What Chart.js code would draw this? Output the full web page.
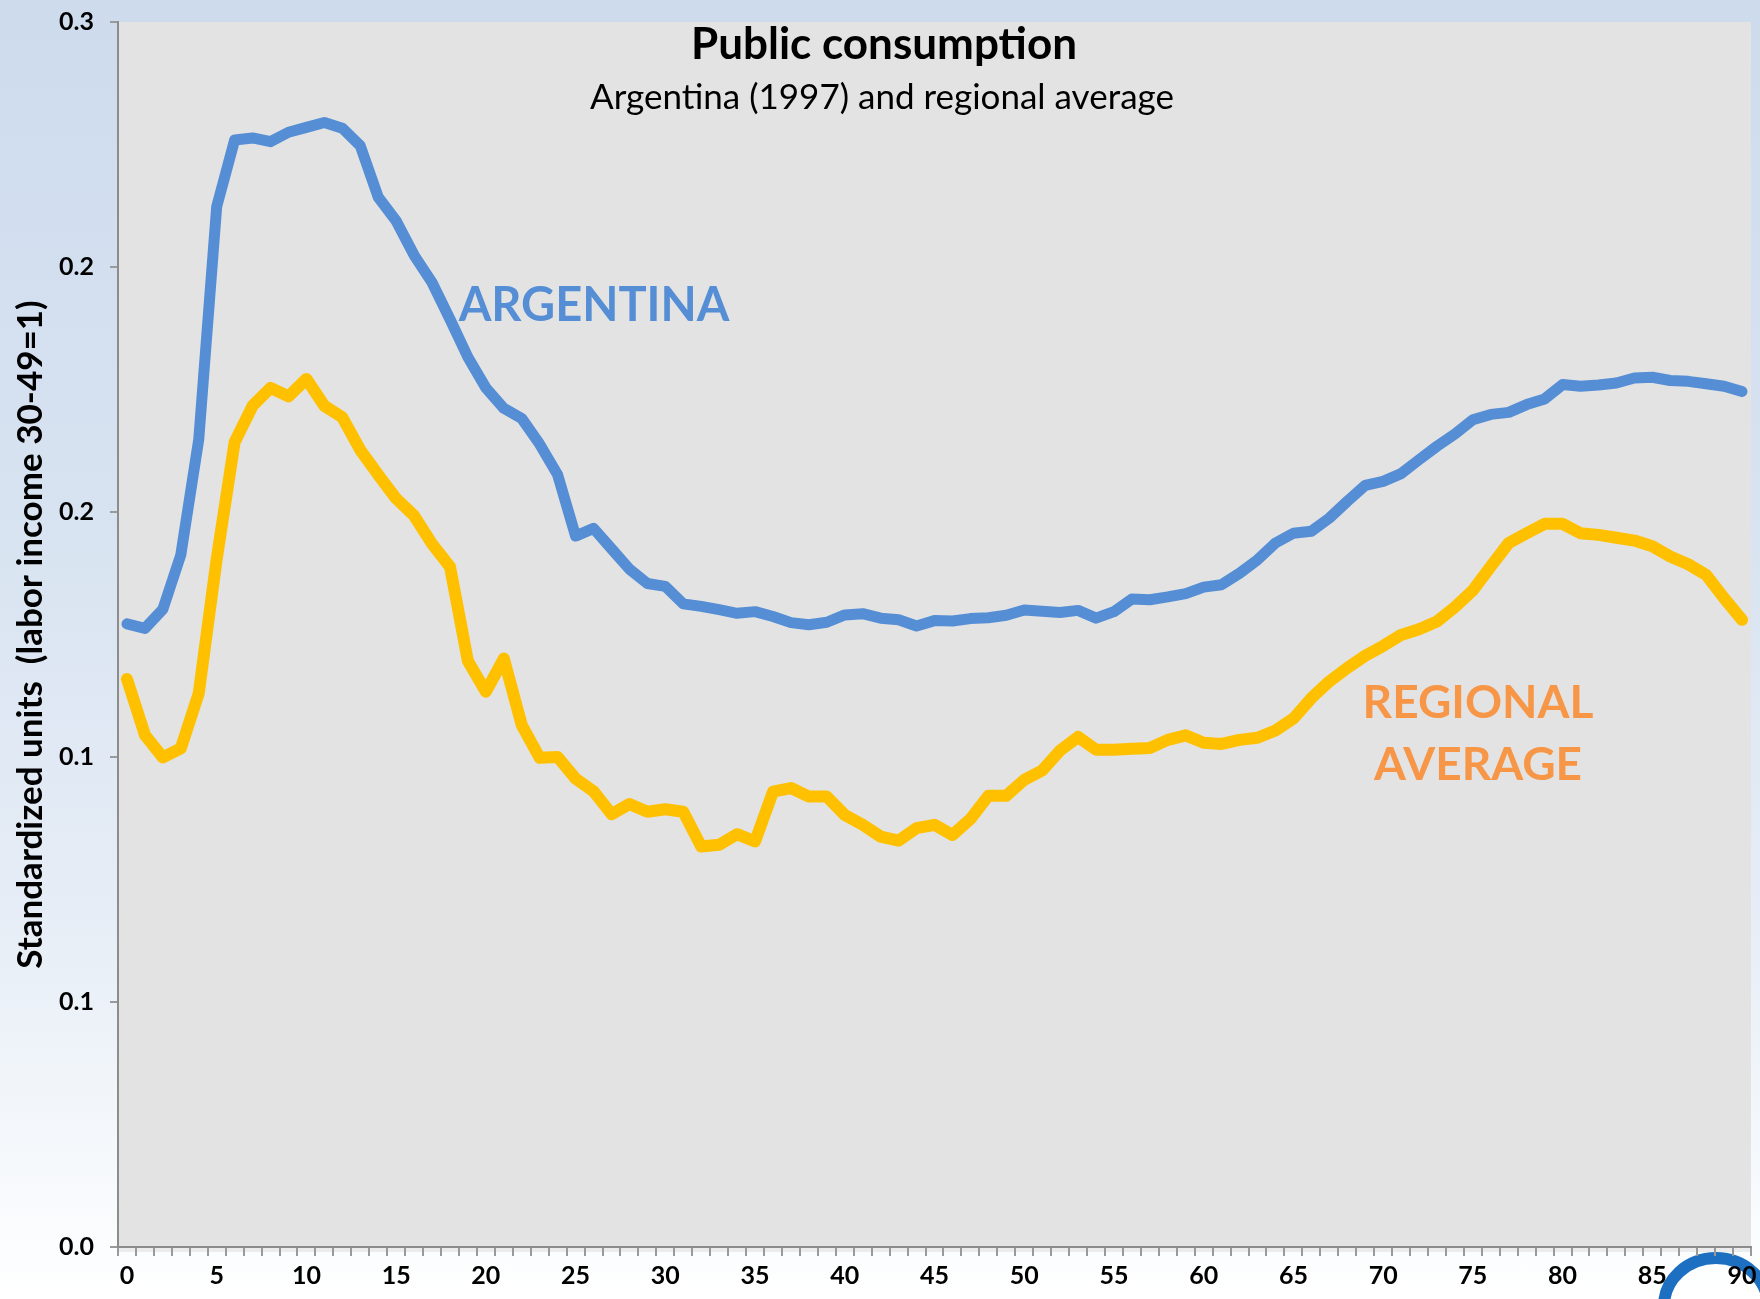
<!DOCTYPE html>
<html>
<head>
<meta charset="utf-8">
<script src="https://cdn.jsdelivr.net/npm/chart.js@4.4.1/dist/chart.umd.min.js"></script>
<style>
  html, body { margin: 0; padding: 0; }
  body {
    width: 1760px; height: 1299px; overflow: hidden;
    background: linear-gradient(to bottom, #cddbed 0%, #d8e3f1 40%, #e6edf6 70%, #f6f9fc 90%, #ffffff 100%);
  }
  canvas { display: block; }
</style>
</head>
<body>
<canvas id="publicConsChart" width="1760" height="1299"></canvas>
<script>
// public consumption by age, standardized units
const ages = [];
for (let a = 0; a <= 90; a++) ages.push(String(a));

const argentina = [
  0.1526, 0.1515, 0.1562, 0.1695, 0.1978, 0.2548, 0.2711, 0.2716, 0.2707, 0.2730,
  0.2742, 0.2754, 0.2740, 0.2697, 0.2571, 0.2513, 0.2429, 0.2362, 0.2272, 0.2179,
  0.2104, 0.2054, 0.2029, 0.1966, 0.1891, 0.1741, 0.1760, 0.1710, 0.1660, 0.1625,
  0.1618, 0.1575, 0.1569, 0.1561, 0.1552, 0.1556, 0.1544, 0.1529, 0.1524, 0.1530,
  0.1548, 0.1551, 0.1540, 0.1536, 0.1521, 0.1534, 0.1533, 0.1539, 0.1541, 0.1547,
  0.1560, 0.1557, 0.1554, 0.1559, 0.1540, 0.1556, 0.1587, 0.1585, 0.1592, 0.1600,
  0.1616, 0.1622, 0.1650, 0.1683, 0.1724, 0.1748, 0.1753, 0.1785, 0.1826, 0.1865,
  0.1875, 0.1894, 0.1928, 0.1961, 0.1991, 0.2026, 0.2039, 0.2044, 0.2063, 0.2077,
  0.2112, 0.2108, 0.2111, 0.2116, 0.2128, 0.2130, 0.2122, 0.2120, 0.2114, 0.2108,
  0.2095
];

const regional = [
  0.1391, 0.1254, 0.1199, 0.1221, 0.1356, 0.1685, 0.1971, 0.2060, 0.2104, 0.2083,
  0.2126, 0.2060, 0.2032, 0.1952, 0.1891, 0.1833, 0.1791, 0.1722, 0.1666, 0.1435,
  0.1360, 0.1441, 0.1278, 0.1198, 0.1200, 0.1147, 0.1116, 0.1060, 0.1085, 0.1066,
  0.1072, 0.1066, 0.0981, 0.0985, 0.1011, 0.0993, 0.1115, 0.1124, 0.1103, 0.1103,
  0.1058, 0.1034, 0.1005, 0.0995, 0.1026, 0.1034, 0.1009, 0.1048, 0.1105, 0.1105,
  0.1144, 0.1167, 0.1216, 0.1249, 0.1218, 0.1218, 0.1220, 0.1222, 0.1242, 0.1253,
  0.1235, 0.1232, 0.1242, 0.1247, 0.1265, 0.1294, 0.1344, 0.1385, 0.1418, 0.1448,
  0.1472, 0.1499, 0.1513, 0.1532, 0.1567, 0.1608, 0.1667, 0.1724, 0.1748, 0.1771,
  0.1771, 0.1748, 0.1744, 0.1737, 0.1730, 0.1716, 0.1691, 0.1672, 0.1646, 0.1589,
  0.1536
];

const yTicks = [0, 0.06, 0.12, 0.18, 0.24, 0.30];

const FONT = "Lato, 'Open Sans', sans-serif";

// gray plot area + little logo ring in the corner
const plotBg = {
  id: "plotBg",
  beforeDraw(chart) {
    const { ctx, chartArea: a } = chart;
    ctx.save();
    ctx.fillStyle = "#e3e3e3";
    ctx.fillRect(a.left, a.top, a.right - a.left, a.bottom - a.top);
    ctx.fillStyle = "#ececec";
    ctx.fillRect(a.left, a.bottom, a.right - a.left, 5);
    ctx.strokeStyle = "#1d6fc2";
    ctx.lineWidth = 12;
    ctx.beginPath();
    ctx.ellipse(1716, 1306, 52, 48, 0, 0, Math.PI * 2);
    ctx.stroke();
    ctx.restore();
  }
};

// titles and series labels drawn inside the plot
const textLabels = {
  id: "textLabels",
  afterDatasetsDraw(chart) {
    const ctx = chart.ctx;
    ctx.save();
    ctx.textAlign = "center";
    ctx.textBaseline = "middle";
    ctx.fillStyle = "#000";
    ctx.font = "bold 44px " + FONT;
    ctx.fillText("Public consumption", 884, 45);
    ctx.font = "35px " + FONT;
    ctx.fillText("Argentina (1997) and regional average", 882, 98);

    ctx.fillStyle = "#558ed5";
    ctx.font = "bold 47px " + FONT;
    ctx.fillText("ARGENTINA", 594, 306);

    ctx.fillStyle = "#f79646";
    ctx.font = "bold 46px " + FONT;
    ctx.fillText("REGIONAL", 1478, 703);
    ctx.fillText("AVERAGE", 1478, 765);
    ctx.restore();
  }
};

new Chart(document.getElementById("publicConsChart"), {
  type: "line",
  data: {
    labels: ages,
    datasets: [
      {
        label: "Argentina",
        data: argentina,
        borderColor: "#558ed5",
        borderWidth: 11,
        pointRadius: 0,
        tension: 0,
        borderJoinStyle: "round",
        borderCapStyle: "round",
        fill: false
      },
      {
        label: "Regional average",
        data: regional,
        borderColor: "#ffc000",
        borderWidth: 12,
        pointRadius: 0,
        tension: 0,
        borderJoinStyle: "round",
        borderCapStyle: "round",
        fill: false
      }
    ]
  },
  options: {
    responsive: false,
    animation: false,
    layout: { padding: { top: 22, right: 9, left: 0, bottom: 0 } },
    plugins: {
      legend: { display: false },
      tooltip: { enabled: false },
      title: { display: false }
    },
    scales: {
      x: {
        type: "category",
        offset: true,
        border: { display: true, color: "#8c8c8c", width: 2 },
        grid: {
          display: true,
          offset: true,
          drawOnChartArea: false,
          drawTicks: true,
          tickLength: 9,
          color: "#9a9a9a",
          lineWidth: 2
        },
        ticks: {
          autoSkip: false,
          maxRotation: 0,
          minRotation: 0,
          padding: 5,
          color: "#000",
          font: { family: FONT, size: 25, weight: "bold" },
          callback: function (val, i) {
            return i % 5 === 0 ? ages[i] : "";
          }
        },
        afterFit: function (s) {
          s.height = 52;
          s.paddingLeft = 0;
          s.paddingRight = 0;
        }
      },
      y: {
        min: 0,
        max: 0.3,
        border: { display: true, color: "#8c8c8c", width: 2 },
        grid: {
          display: true,
          drawOnChartArea: false,
          drawTicks: true,
          tickLength: 8,
          color: "#9a9a9a",
          lineWidth: 2
        },
        afterBuildTicks: function (s) {
          s.ticks = yTicks.map(v => ({ value: v }));
        },
        ticks: {
          padding: 16,
          color: "#000",
          font: { family: FONT, size: 25, weight: "bold" },
          callback: function (v) { return Number(v).toFixed(1); }
        },
        title: {
          display: true,
          text: "Standardized units  (labor income 30-49=1)",
          color: "#000",
          font: { family: FONT, size: 35, weight: "bold" },
          padding: { top: 10, bottom: 0 }
        },
        afterFit: function (s) {
          s.width = 118;
          s.paddingTop = 0;
          s.paddingBottom = 0;
        }
      }
    }
  },
  plugins: [plotBg, textLabels]
});
</script>
</body>
</html>
